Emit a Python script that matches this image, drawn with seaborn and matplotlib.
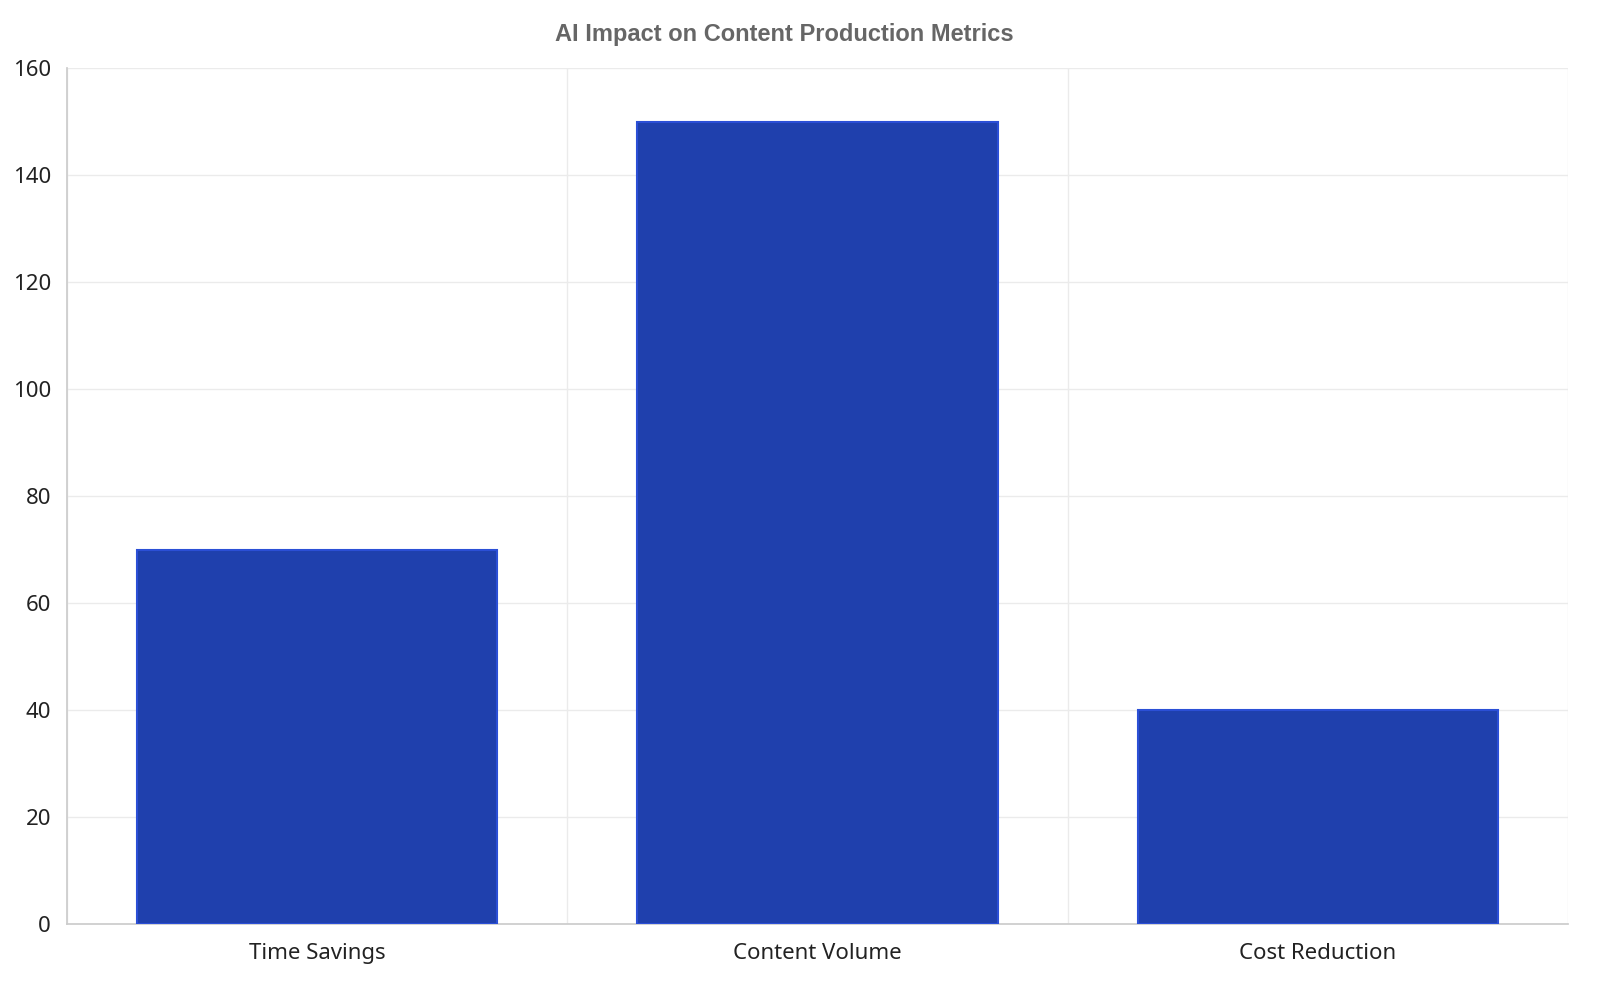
import matplotlib
matplotlib.use("Agg")
import matplotlib.pyplot as plt
import seaborn as sns
import pandas as pd
import numpy as np

categories = ["Time Savings", "Content Volume", "Cost Reduction"]
values = [70, 150, 40]
yticks = [0, 20, 40, 60, 80, 100, 120, 140, 160]

sns.set_theme(style="white")
plt.rcParams['font.family'] = ['Noto Sans', 'DejaVu Sans']

df = pd.DataFrame({"metric": categories, "value": values})
fig = plt.figure(figsize=(16, 10), dpi=100)
ax = fig.add_axes([67/1600, 1-924/1000, (1568-67)/1600, (924-68)/1000])
sns.barplot(data=df, x="metric", y="value", color="#1f40ad", width=0.72,
            edgecolor="#2b4fd6", linewidth=1.5, saturation=1, ax=ax, zorder=3)
ax.set_xlim(-0.5, len(categories) - 0.5)
ax.set_ylim(0, 160)
ax.set_yticks(yticks)
ax.set_xlabel("")
ax.set_ylabel("")
ax.set_xticks(np.arange(-0.5, len(categories)), minor=True)
ax.tick_params(axis="x", which="major", length=0, labelsize=16, pad=14, colors="#222222")
ax.tick_params(axis="x", which="minor", length=16, width=1, color="#dddddd")
ax.tick_params(axis="y", length=8, width=1, color="#dddddd", labelsize=16, colors="#222222")
ax.grid(axis="y", color="#ebebeb", linewidth=1, zorder=0)
ax.grid(axis="x", which="minor", color="#ebebeb", linewidth=1, zorder=0)
for s in ["top", "right"]:
    ax.spines[s].set_visible(False)
ax.spines["left"].set_color("#cccccc")
ax.spines["bottom"].set_color("#cccccc")
fig.text(0.49, 0.966, "AI Impact on Content Production Metrics", ha="center", va="center",
         fontsize=17, fontweight="bold", color="#666666", family="Liberation Sans")
fig.savefig("out.png", dpi=100)
